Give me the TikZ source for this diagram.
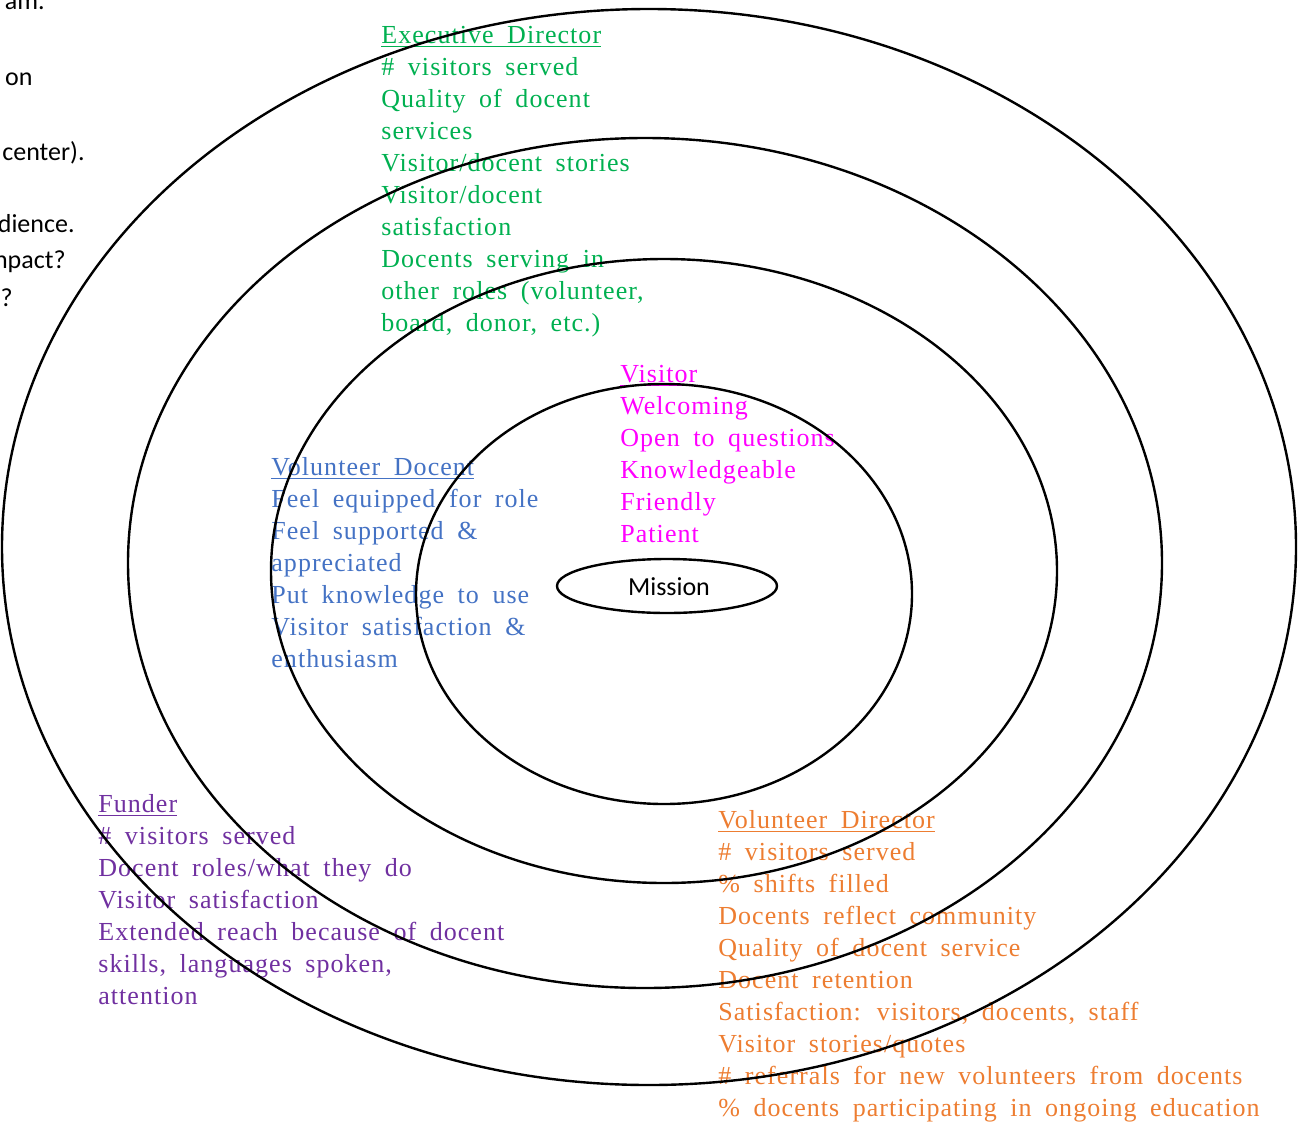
\documentclass[tikz,border=0pt]{standalone}
\usepackage{fontspec}
\setmainfont{Liberation Serif}[LetterSpace=4, WordSpace=1.8]
\newfontfamily\calibri{Carlito}
\definecolor{exgreen}{HTML}{00B050}
\definecolor{docblue}{HTML}{4472C4}
\definecolor{vismag}{HTML}{FF00FF}
\definecolor{fundpurple}{HTML}{7030A0}
\definecolor{vdorange}{HTML}{ED7D31}
\begin{document}
\begin{tikzpicture}[x=0.5pt, y=-0.5pt,
    ring/.style={line width=1.2pt},
    stake/.style={anchor=north west, inner sep=0pt, align=left,
        font=\fontsize{13}{16}\selectfont},
    margintext/.style={anchor=base east, inner sep=0pt,
        font=\calibri\fontsize{13}{16}\selectfont}]
    % Page frame, measured in pixels of the drawing
    \useasboundingbox (0,0) rectangle (1299,1124);
    \clip (0,0) rectangle (1299,1124);

    % Left margin text, cut off by the page edge
    \node[margintext] (m1) at (45,10) {am.};
    \node[margintext] (m2) at (33,85) {on};
    \node[margintext] (m3) at (85,160) {center).};
    \node[margintext] (m4) at (75,232) {dience.};
    \node[margintext] (m5) at (66,268) {npact?};
    \node[margintext] (m6) at (13,306) {?};

    % Stakeholders and what they look for
    \node[stake, text=exgreen] (exec) at (381,26) {\underline{Executive Director}\\
        \# visitors served\\ Quality of docent\\ services\\
        Visitor/docent stories\\ Visitor/docent\\ satisfaction\\
        Docents serving in\\ other roles (volunteer,\\ board, donor, etc.)};
    \node[stake, text=vismag] (visitor) at (620,365) {\underline{Visitor}\\
        Welcoming\\ Open to questions\\ Knowledgeable\\ Friendly\\ Patient};
    \node[stake, text=docblue] (docent) at (271,457) {\underline{Volunteer Docent}\\
        Feel equipped for role\\ Feel supported \&\\ appreciated\\
        Put knowledge to use\\ Visitor satisfaction \&\\ enthusiasm};
    \node[stake, text=fundpurple] (funder) at (98,794) {\underline{Funder}\\
        \# visitors served\\ Docent roles/what they do\\ Visitor satisfaction\\
        Extended reach because of docent\\ skills, languages spoken,\\ attention};
    \node[stake, text=vdorange] (voldir) at (718,810) {\underline{Volunteer Director}\\
        \# visitors served\\ \% shifts filled\\ Docents reflect community\\
        Quality of docent service\\ Docent retention\\
        Satisfaction: visitors, docents, staff\\ Visitor stories/quotes\\
        \# referrals for new volunteers from docents\\
        \% docents participating in ongoing education};

    % Rings, outermost first
    \draw[ring] (649,547) ellipse [x radius=647, y radius=538];
    \draw[ring] (645,563) ellipse [x radius=517, y radius=425];
    \draw[ring] (664,571) ellipse [x radius=393, y radius=312];
    \draw[ring] (664,594) ellipse [x radius=248, y radius=210];

    % Centre
    \draw[ring] (667,586) ellipse [x radius=110, y radius=27];
    \node[font=\calibri\fontsize{13}{16}\selectfont, inner sep=0pt] (mission) at (669,587) {Mission};
\end{tikzpicture}
\end{document}
